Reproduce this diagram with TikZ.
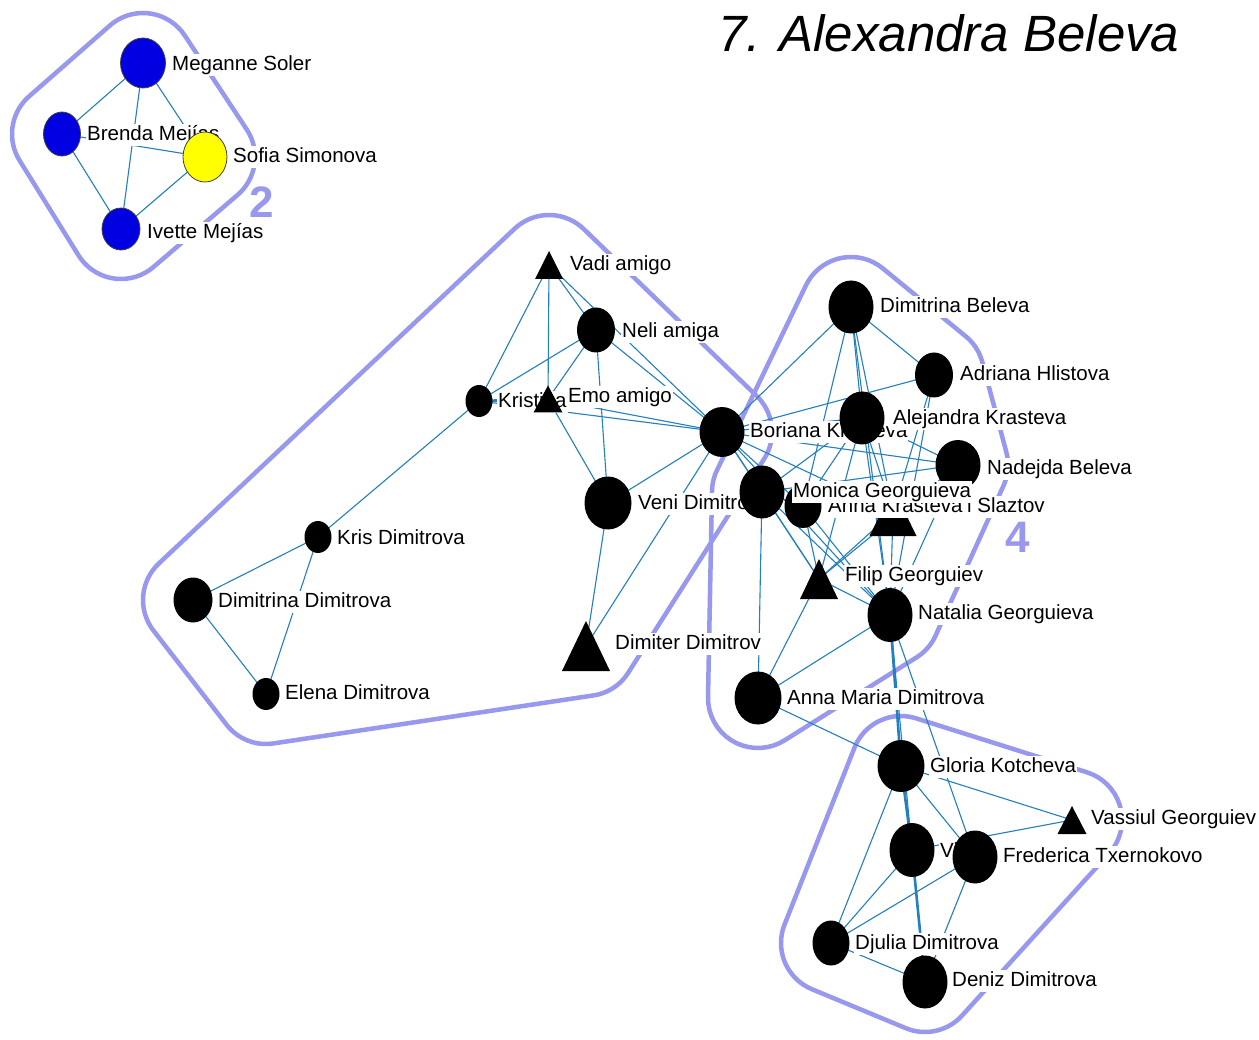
\documentclass[tikz,border=0pt]{standalone}
\usepackage{fontspec}
\setmainfont{Liberation Sans}
\usetikzlibrary{calc}
\definecolor{hullc}{RGB}{152,152,238}
\definecolor{edgec}{RGB}{35,128,190}
\definecolor{nodeblue}{RGB}{0,0,225}
\definecolor{nodeyellow}{RGB}{255,255,0}
% filled ellipse node marker and triangle marker
\newcommand{\nblob}[3]{\fill (#1) ellipse [x radius=#2, y radius=#3];}
\newcommand{\ntri}[3]{\fill ($(#1)+(0,-#3)$) -- ($(#1)+(#2,#3)$) -- ($(#1)+(-#2,#3)$) -- cycle;}
\begin{document}
\begin{tikzpicture}[x=1pt,y=-1pt,
  hull/.style={draw=hullc, line width=4.5pt, line join=round, samples=18},
  edge/.style={draw=edgec, line width=1.1pt},
  heavy/.style={draw=edgec, line width=2.6pt},
  lbl/.style={anchor=west, fill=white, inner xsep=1pt, inner ysep=1pt,
    text height=15pt, text depth=4.5pt, font=\fontsize{20.5}{24}\selectfont},
  grp/.style={anchor=base west, inner sep=0pt, text=hullc,
    font=\fontsize{44}{44}\selectfont\bfseries}]
\useasboundingbox (0,0) rectangle (1259,1040);
\fill[white] (0,0) rectangle (1259,1040);

% ---------- node positions ----------
% group 2
\coordinate (ms) at (143,63);
\coordinate (bm) at (62,134);
\coordinate (ss) at (205,157);
\coordinate (im) at (121,229);
% group 1
\coordinate (va) at (549,265);
\coordinate (ne) at (596,330);
\coordinate (kr) at (479,401);
\coordinate (em) at (548,399);
\coordinate (bo) at (722,432);
\coordinate (ve) at (608,503);
\coordinate (dd) at (586,646);
\coordinate (kd) at (318,537);
\coordinate (di) at (193,600);
\coordinate (el) at (266,694);
% group 4
\coordinate (db) at (851,307);
\coordinate (ah) at (934,375);
\coordinate (ak) at (862,418);
\coordinate (nb) at (958,465);
\coordinate (mg) at (762,492);
\coordinate (an) at (803,506);
\coordinate (sl) at (893,512);
\coordinate (fg) at (819,579);
\coordinate (ng) at (890,615);
\coordinate (am) at (758,698);
% group 3
\coordinate (gk) at (901,766);
\coordinate (vg) at (1072,820);
\coordinate (vi) at (912,850);
\coordinate (ft) at (975,857);
\coordinate (dj) at (831,943);
\coordinate (dz) at (925,982);

% ---------- group hulls ----------
\draw[hull]
  plot[domain=229.2:326.3] ({143+50*cos(\x)},{63+50*sin(\x)})
  -- plot[domain=-33.7:49.0] ({205+50*cos(\x)},{157+50*sin(\x)})
  -- plot[domain=49.0:148.4] ({121+50*cos(\x)},{229+50*sin(\x)})
  -- plot[domain=148.4:229.2] ({62+50*cos(\x)},{134+50*sin(\x)})
  -- cycle;
\draw[hull]
  plot[domain=226.7:314.0] ({549+50*cos(\x)},{265+50*sin(\x)})
  -- plot[domain=-46.0:32.0] ({722+50*cos(\x)},{432+50*sin(\x)})
  -- plot[domain=32.0:82.0] ({586+50*cos(\x)},{646+50*sin(\x)})
  -- plot[domain=82.0:141.9] ({266+50*cos(\x)},{694+50*sin(\x)})
  -- plot[domain=141.9:226.7] ({193+50*cos(\x)},{600+50*sin(\x)})
  -- cycle;
\draw[hull]
  plot[domain=205.5:309.3] ({851+50*cos(\x)},{307+50*sin(\x)})
  -- plot[domain=-50.7:-14.8] ({934+50*cos(\x)},{375+50*sin(\x)})
  -- plot[domain=-14.8:24.8] ({958+50*cos(\x)},{465+50*sin(\x)})
  -- plot[domain=24.8:57.6] ({890+50*cos(\x)},{615+50*sin(\x)})
  -- plot[domain=57.6:181.1] ({758+50*cos(\x)},{698+50*sin(\x)})
  -- plot[domain=181.1:205.5] ({762+50*cos(\x)},{492+50*sin(\x)})
  -- cycle;
\draw[hull]
  plot[domain=201.3:287.5] ({901+50*cos(\x)},{766+50*sin(\x)})
  -- plot[domain=-72.5:42.2] ({1072+50*cos(\x)},{820+50*sin(\x)})
  -- plot[domain=42.2:112.8] ({925+50*cos(\x)},{982+50*sin(\x)})
  -- plot[domain=112.8:201.3] ({831+50*cos(\x)},{943+50*sin(\x)})
  -- cycle;
\node[grp] (g2) at (249,218) {2};
\node[grp] (g4) at (1005,552) {4};

% ---------- ties ----------
\foreach \a/\b in {ms/bm, ms/im, ms/ss, bm/im, bm/ss, ss/im,
  va/kr, va/em, va/ne, va/bo, ne/kr, ne/em, ne/ve, ne/bo, kr/bo, em/bo,
  em/ve, ve/bo, ve/dd, bo/dd, kr/kd, kd/di, kd/el, di/el,
  bo/db, bo/ah, bo/ak, bo/nb, bo/mg, bo/an, bo/sl, bo/fg, bo/ng,
  db/ah, db/ak, db/an, db/sl, db/ng, ah/sl, ah/ng,
  ak/nb, ak/mg, ak/an, ak/sl, ak/fg, ak/ng, nb/mg, nb/ng, nb/fg,
  mg/an, mg/fg, mg/ng, mg/am, an/ng, an/fg, sl/ng, sl/fg, fg/ng, fg/am, ng/am,
  am/gk, ng/vi, ng/ft,
  gk/vg, gk/ft, gk/dj, vi/vg, vi/dj, ft/dj, ft/dz, dj/dz}
  \draw[edge] (\a) -- (\b);
\foreach \a/\b in {kr/em, ng/gk, gk/vi, vi/dz}
  \draw[heavy] (\a) -- (\b);

% ---------- actors and names ----------
% group 2
\filldraw[fill=nodeblue, draw=black!75, line width=0.8pt] (ms) ellipse [x radius=22.5, y radius=25];
\node[lbl] (lms) at (171,65) {Meganne Soler};
\filldraw[fill=nodeblue, draw=black!75, line width=0.8pt] (bm) ellipse [x radius=18.5, y radius=22];
\node[lbl] (lbm) at (86,135) {Brenda Mejías};
\filldraw[fill=nodeblue, draw=black!75, line width=0.8pt] (im) ellipse [x radius=19, y radius=21];
\node[lbl] (lim) at (146,233) {Ivette Mejías};
\filldraw[fill=nodeyellow, draw=black!75, line width=0.8pt] (ss) ellipse [x radius=22, y radius=25];
\node[lbl] (lss) at (232,157) {Sofia Simonova};

% group 1
\ntri{va}{14}{14}
\node[lbl] (lva) at (569,265) {Vadi amigo};
\nblob{ne}{19}{22.5}
\node[lbl] (lne) at (621,332) {Neli amiga};
\nblob{kr}{13.5}{16}
\node[lbl] (lkr) at (497,402) {Kristina};
\ntri{em}{14.5}{13.5}
\node[lbl] (lem) at (567,397) {Emo amigo};
\nblob{ve}{23.5}{26.5}
\node[lbl] (lve) at (637,504) {Veni Dimitrov};
\ntri{dd}{24}{25}
\node[lbl] (ldd) at (614,644) {Dimiter Dimitrov};
\nblob{kd}{13.5}{16}
\node[lbl] (lkd) at (336,539) {Kris Dimitrova};
\nblob{di}{19.5}{22.5}
\node[lbl] (ldi) at (217,602) {Dimitrina Dimitrova};
\nblob{el}{13.5}{16}
\node[lbl] (lel) at (284,694) {Elena Dimitrova};
\nblob{bo}{22.5}{25}
\node[lbl] (lbo) at (749,432) {Boriana Krasteva};

% group 4
\nblob{db}{22.5}{26.5}
\node[lbl] (ldb) at (879,307) {Dimitrina Beleva};
\nblob{ah}{19}{22.5}
\node[lbl] (lah) at (959,375) {Adriana Hlistova};
\nblob{nb}{22.5}{25}
\node[lbl] (lnb) at (986,469) {Nadejda Beleva};
\nblob{ak}{22.5}{26.5}
\node[lbl] (lak) at (892,419) {Alejandra Krasteva};
\ntri{sl}{23.5}{24}
\node[lbl] (lsl) at (966,507) {i Slaztov};
\nblob{an}{18.5}{22}
\node[lbl] (lan) at (827,507) {Anna Krasteva};
\nblob{mg}{22.5}{26.5}
\node[lbl] (lmg) at (792,492) {Monica Georguieva};
\ntri{fg}{19}{20}
\node[lbl] (lfg) at (844,576) {Filip Georguiev};
\nblob{ng}{22.5}{27}
\node[lbl] (lng) at (917,614) {Natalia Georguieva};
\nblob{am}{23.5}{26.5}
\node[lbl] (lam) at (786,699) {Anna Maria Dimitrova};

% group 3
\nblob{gk}{23.5}{26}
\node[lbl] (lgk) at (929,767) {Gloria Kotcheva};
\ntri{vg}{14.5}{14}
\node[lbl] (lvg) at (1090,819) {Vassiul Georguiev};
\nblob{vi}{22.5}{27}
\node[lbl] (lvi) at (939,852) {Vili};
\nblob{ft}{22.5}{26.5}
\node[lbl] (lft) at (1002,857) {Frederica Txernokovo};
\nblob{dj}{18.5}{22.5}
\node[lbl] (ldj) at (854,944) {Djulia Dimitrova};
\nblob{dz}{22.5}{26.5}
\node[lbl] (ldz) at (951,981) {Deniz Dimitrova};

% ---------- heading ----------
\node[anchor=base west, inner sep=0pt, font=\fontsize{51}{51}\selectfont\itshape] (title) at (718,52) {7. Alexandra Beleva};
\end{tikzpicture}
\end{document}
